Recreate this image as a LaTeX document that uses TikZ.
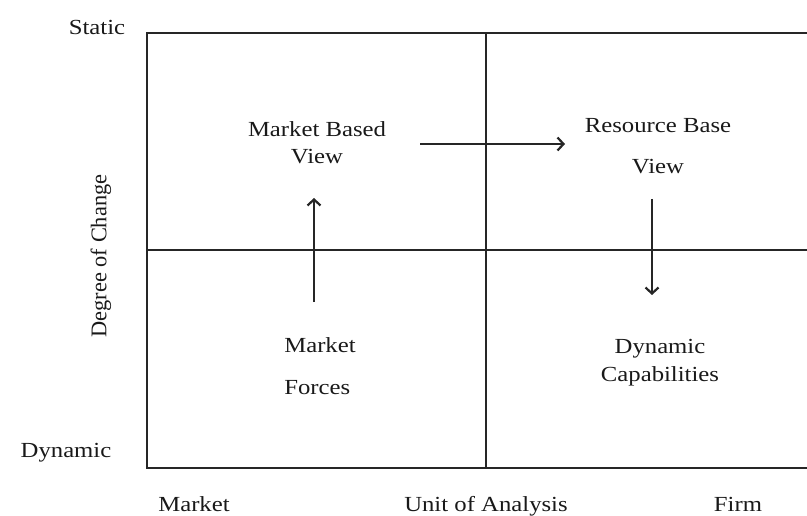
\documentclass[tikz,border=0pt]{standalone}
\usepackage{fontspec}
\setmainfont{Liberation Serif}[FakeStretch=1.15]
\newfontfamily\plainserif{Liberation Serif}
\usetikzlibrary{arrows.meta}

\tikzset{
    grid/.style={line width=2.4pt, draw=black!85},
    flow/.style={line width=2.2pt, draw=black!85, -{Straight Barb[length=6pt,width=13pt]}},
    lbl/.style={font=\fontsize{21.5}{24}\selectfont, text=black!90, inner sep=0pt, anchor=base, align=center}
}

\begin{document}
\begin{tikzpicture}[x=1pt, y=-1pt]
    \useasboundingbox (0,0) rectangle (807,516);

    % frame and quadrants
    \draw[grid] (807,33) -- (147,33) -- (147,468) -- (807,468);
    \draw[grid] (486,33) -- (486,468);
    \draw[grid] (147,250) -- (807,250);

    % axis labels
    \node[lbl] (static)  at (97,34.5)  {Static};
    \node[lbl] (dynamic) at (66,457)   {Dynamic};
    \node[lbl] (market)  at (194,511)  {Market};
    \node[lbl] (unit)    at (486,511)  {Unit of Analysis};
    \node[lbl] (firm)    at (738,511)  {Firm};
    \node[lbl, anchor=center, rotate=90, font=\plainserif\fontsize{22.4}{24}\selectfont]
        (change) at (101,256) {Degree of Change};

    % quadrant contents (base = last line)
    \node[lbl] (mbv) at (317,164) {Market Based\\[3pt]View};
    \node[lbl] (rbv) at (658,174) {Resource Base\\[17pt]View};
    \node[lbl, align=left] (forces) at (320,394) {Market\\[18pt]Forces};
    \node[lbl] (dyncap) at (660,381) {Dynamic\\[4pt]Capabilities};

    % arrows between the views
    \coordinate (mbv-out)    at (420,144);
    \coordinate (rbv-in)     at (565,144);
    \coordinate (forces-out) at (314,302);
    \coordinate (mbv-in)     at (314,198);
    \coordinate (rbv-out)    at (652,199);
    \coordinate (dyncap-in)  at (652,295);

    \draw[flow] (mbv-out) -- (rbv-in);
    \draw[flow] (forces-out) -- (mbv-in);
    \draw[flow] (rbv-out) -- (dyncap-in);
\end{tikzpicture}
\end{document}
